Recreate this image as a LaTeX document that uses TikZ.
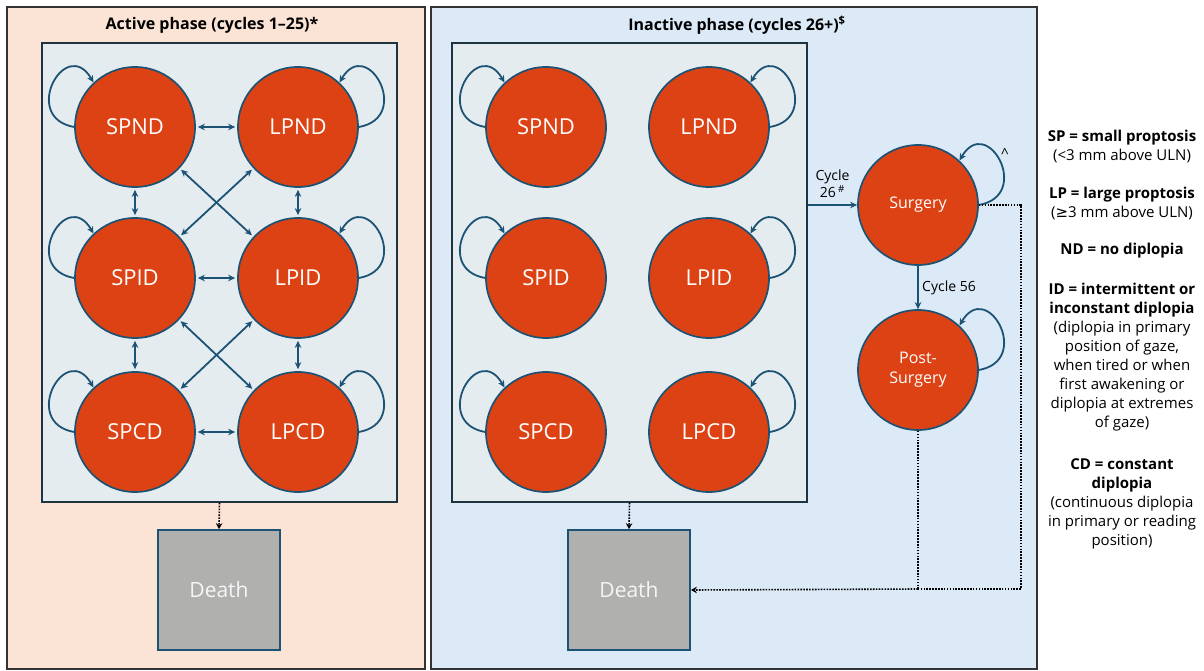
\documentclass[tikz,border=0pt]{standalone}
\usepackage{fontspec}
\setmainfont{Open Sans}
\newfontfamily\symfont{DejaVu Sans}
\usetikzlibrary{arrows.meta}

\definecolor{aktivbg}{HTML}{FBE3D6}
\definecolor{inaktivbg}{HTML}{DCE9F6}
\definecolor{innenbg}{HTML}{E4ECF0}
\definecolor{kreisrot}{HTML}{DD4214}
\definecolor{kantenblau}{HTML}{1C5274}
\definecolor{rahmen}{HTML}{1E3440}
\definecolor{todgrau}{HTML}{B0B1AF}

\begin{document}
\begin{tikzpicture}[x=1pt,y=-1pt,>={Stealth[length=7pt,width=6.5pt]},
  panel/.style={draw=black!80,line width=1.3pt,inner sep=0pt},
  innenbox/.style={draw=rahmen,line width=1.6pt,fill=innenbg,minimum width=355pt,minimum height=459pt,inner sep=0pt},
  zustand/.style={circle,draw=kantenblau,line width=1.7pt,fill=kreisrot,text=white,minimum size=120pt,inner sep=0pt,font=\fontsize{22}{24}\selectfont},
  klein/.style={zustand,align=center,font=\fontsize{16}{20}\selectfont},
  tod/.style={draw=kantenblau,line width=1.7pt,fill=todgrau,text=white!96!black,minimum width=122pt,minimum height=120pt,font=\fontsize{21}{24}\selectfont},
  pfeil/.style={draw=kantenblau,line width=1.8pt,<->,shorten >=2pt,shorten <=2pt},
  schleife/.style={draw=kantenblau,line width=1.8pt,->},
  punkte/.style={draw=black,line width=1.6pt,dash pattern=on 1.6pt off 1.3pt,>={Stealth[length=6pt,width=6.5pt]}},
  titel/.style={font=\bfseries\fontsize{16}{18}\selectfont},
  beschr/.style={font=\fontsize{14}{17}\selectfont,align=center},
  legende/.style={align=center,font=\fontsize{15}{19}\selectfont}]
\useasboundingbox (0,0) rectangle (1204,671);
% Phasen
\node[panel,fill=aktivbg,minimum width=418pt,minimum height=662pt] (aktiv) at (216,338) {};
\node[panel,fill=inaktivbg,minimum width=606pt,minimum height=662pt] (inaktiv) at (734,338) {};
\node[titel] (titelA) at (212,25) {Active phase (cycles 1–25)*};
\node[titel] (titelI) at (737,25) {Inactive phase (cycles 26+)\textsuperscript{\$}};
\node[innenbox] (boxA) at (219.5,272.5) {};
\node[innenbox] (boxI) at (629.5,272.5) {};

% aktive Phase
\node[zustand] (aSPND) at (135,127) {SPND};
\node[zustand] (aLPND) at (298,127) {LPND};
\node[zustand] (aSPID) at (135,278) {SPID};
\node[zustand] (aLPID) at (298,278) {LPID};
\node[zustand] (aSPCD) at (135,432) {SPCD};
\node[zustand] (aLPCD) at (298,432) {LPCD};
\draw[pfeil] (aSPND) -- (aLPND);
\draw[pfeil] (aSPID) -- (aLPID);
\draw[pfeil] (aSPCD) -- (aLPCD);
\draw[pfeil] (aSPND) -- (aSPID);
\draw[pfeil] (aSPID) -- (aSPCD);
\draw[pfeil] (aLPND) -- (aLPID);
\draw[pfeil] (aLPID) -- (aLPCD);
\draw[pfeil] (aSPND) -- (aLPID);
\draw[pfeil] (aLPND) -- (aSPID);
\draw[pfeil] (aSPID) -- (aLPCD);
\draw[pfeil] (aLPID) -- (aSPCD);
\draw[schleife] (aSPND.180) to[out=170,in=120,looseness=2.9] (aSPND.133);
\draw[schleife] (aSPID.180) to[out=170,in=120,looseness=2.9] (aSPID.133);
\draw[schleife] (aSPCD.180) to[out=170,in=120,looseness=2.9] (aSPCD.133);
\draw[schleife] (aLPND.0) to[out=10,in=60,looseness=2.9] (aLPND.47);
\draw[schleife] (aLPID.0) to[out=10,in=60,looseness=2.9] (aLPID.47);
\draw[schleife] (aLPCD.0) to[out=10,in=60,looseness=2.9] (aLPCD.47);
\node[tod] (todA) at (219,590) {Death};
\draw[punkte,->] (boxA.south) -- (todA.north);

% inaktive Phase
\node[zustand] (iSPND) at (546,127) {SPND};
\node[zustand] (iLPND) at (709,127) {LPND};
\node[zustand] (iSPID) at (546,278) {SPID};
\node[zustand] (iLPID) at (709,278) {LPID};
\node[zustand] (iSPCD) at (546,432) {SPCD};
\node[zustand] (iLPCD) at (709,432) {LPCD};
\draw[schleife] (iSPND.180) to[out=170,in=120,looseness=2.9] (iSPND.133);
\draw[schleife] (iSPID.180) to[out=170,in=120,looseness=2.9] (iSPID.133);
\draw[schleife] (iSPCD.180) to[out=170,in=120,looseness=2.9] (iSPCD.133);
\draw[schleife] (iLPND.0) to[out=10,in=60,looseness=2.9] (iLPND.47);
\draw[schleife] (iLPID.0) to[out=10,in=60,looseness=2.9] (iLPID.47);
\draw[schleife] (iLPCD.0) to[out=10,in=60,looseness=2.9] (iLPCD.47);
\node[tod] (todI) at (629,590) {Death};
\draw[punkte,->] (boxI.south) -- (todI.north);

% Operation
\node[klein] (surg) at (918,205) {Surgery};
\node[klein] (post) at (918,370) {Post-\\Surgery};
\draw[schleife] (boxI.east |- surg) -- (surg) node[midway,above,beschr,yshift=3pt] {Cycle\\26\,\textsuperscript{\#}};
\draw[schleife] (surg) -- (post) node[midway,right,beschr] {Cycle 56};
\draw[schleife] (surg.0) to[out=10,in=60,looseness=2.9] (surg.47);
\node[beschr] (hut) at (1005,153) {\textasciicircum};
\draw[schleife] (post.0) to[out=10,in=60,looseness=2.9] (post.47);
\coordinate (ecke) at (1021,589);
\coordinate (knick) at (post.south |- ecke);
\draw[punkte] (surg.east) -| (ecke) -- (knick);
\draw[punkte] (post.south) -- (knick);
\draw[punkte,->] (knick) -- (todI.east);

% Legende
\node[legende,anchor=north] (legende) at (1122,127) {\textbf{SP = small proptosis}\\(<3 mm above ULN)\\[19pt]\textbf{LP = large proptosis}\\({\symfont ≥}3 mm above ULN)\\[18pt]\textbf{ND = no diplopia}\\[21pt]\textbf{ID = intermittent or}\\\textbf{inconstant diplopia}\\(diplopia in primary\\position of gaze,\\when tired or when\\first awakening or\\diplopia at extremes\\of gaze)\\[23pt]\textbf{CD = constant}\\\textbf{diplopia}\\(continuous diplopia\\in primary or reading\\position)};
\end{tikzpicture}
\end{document}
